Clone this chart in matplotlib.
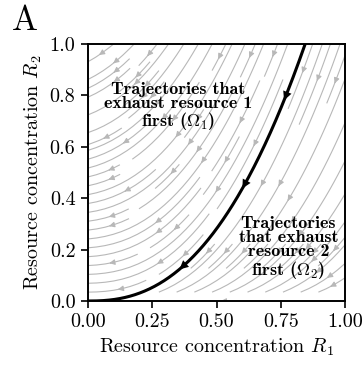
import numpy as np
import matplotlib
matplotlib.use("Agg")
import matplotlib.pyplot as plt
from matplotlib.patches import FancyArrowPatch

plt.rcParams["font.family"] = "serif"
plt.rcParams["font.serif"] = ["cmr10"]
plt.rcParams["mathtext.fontset"] = "cm"
plt.rcParams["axes.formatter.use_mathtext"] = True
plt.rcParams["axes.unicode_minus"] = False

# Separatrix R2 = (R1 / sep_r1_top) ** sep_exp, reaching R2 = 1 at R1 = sep_r1_top
sep_r1_top = 0.845
sep_exp = 2.42
# Translation of the separatrix that generates the other trajectories
omega1_shift = 0.3        # R1 component per unit R2 (region above separatrix)
# Positions (R1) of arrowheads drawn on the separatrix
sep_arrow_r1 = [0.77, 0.61, 0.37]

x_ticks = [0.0, 0.25, 0.5, 0.75, 1.0]
x_ticklabels = ["0.00", "0.25", "0.50", "0.75", "1.00"]
y_ticks = [0.0, 0.2, 0.4, 0.6, 0.8, 1.0]
y_ticklabels = ["0.0", "0.2", "0.4", "0.6", "0.8", "1.0"]


def sep(r1):
    return (np.clip(r1, 0, None) / sep_r1_top) ** sep_exp


def sep_slope(r1):
    return sep_exp / sep_r1_top * (np.clip(r1, 0, None) / sep_r1_top) ** (sep_exp - 1)


# Vector field of resource depletion
n = 200
r1 = np.linspace(0, 1, n)
r2 = np.linspace(0, 1, n)
R1, R2 = np.meshgrid(r1, r2)

# region above separatrix: solve R1 + a R2 = x0 + a sep(x0)
target = R1 + omega1_shift * R2
lo = np.zeros_like(target)
hi = np.full_like(target, 2.0)
for _ in range(60):
    mid = 0.5 * (lo + hi)
    f = mid + omega1_shift * sep(mid) - target
    hi = np.where(f > 0, mid, hi)
    lo = np.where(f > 0, lo, mid)
x0_upper = 0.5 * (lo + hi)
# region below separatrix: horizontal translate
x0_lower = sep_r1_top * R2 ** (1.0 / sep_exp)

above = R2 >= sep(R1)
x0 = np.where(above, x0_upper, x0_lower)
U = -np.ones_like(R1)
V = -sep_slope(x0)
speed = np.hypot(U, V)
U, V = U / speed, V / speed

fig = plt.figure(figsize=(3.64, 3.67), dpi=100)
ax = fig.add_axes([88 / 364, 1 - 301 / 367, 257 / 364, 257 / 367])

ax.streamplot(r1, r2, U, V, density=1.0, color="#b8b8b8", linewidth=0.8,
              arrowsize=0.8, arrowstyle="-|>")

xs = np.linspace(0, sep_r1_top, 400)
ax.plot(xs, sep(xs), color="black", lw=2.2, zorder=5, solid_capstyle="butt")
for xa in sep_arrow_r1:
    ya = sep(xa)
    d = np.array([1.0, sep_slope(xa)])
    d = d / np.hypot(*d) * 0.03
    arr = FancyArrowPatch((xa + d[0], ya + d[1]), (xa - d[0], ya - d[1]),
                          arrowstyle="-|>", mutation_scale=16, color="black",
                          lw=0, zorder=6)
    ax.add_patch(arr)

ax.text(0.35, 0.755, "Trajectories that\nexhaust resource 1\nfirst ($\\Omega_1$)",
        ha="center", va="center", fontsize=13, family="cmb10", zorder=7,
        linespacing=0.95)
ax.text(0.78, 0.206, "Trajectories\nthat exhaust\nresource 2\nfirst ($\\Omega_2$)",
        ha="center", va="center", fontsize=13, family="cmb10", zorder=7,
        linespacing=0.95)

ax.set_xlim(0, 1)
ax.set_ylim(0, 1)
ax.set_xticks(x_ticks)
ax.set_xticklabels(x_ticklabels)
ax.set_yticks(y_ticks)
ax.set_yticklabels(y_ticklabels)
ax.tick_params(labelsize=14.5, length=5, width=1.2, direction="out", pad=4)
for s in ax.spines.values():
    s.set_linewidth(1.4)
ax.set_xlabel("Resource concentration $R_1$", fontsize=14.5, labelpad=4)
ax.set_ylabel("Resource concentration $R_2$", fontsize=14.5, labelpad=4)

fig.text(12 / 364, 1 - 30 / 367, "A", fontsize=25, va="baseline", ha="left")

fig.savefig("out.png", dpi=100)
